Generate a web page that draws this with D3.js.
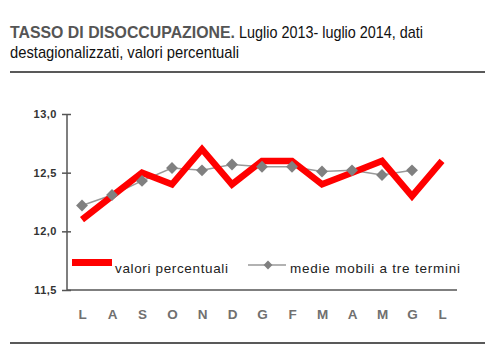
<!DOCTYPE html>
<html><head><meta charset="utf-8">
<script src="https://cdn.jsdelivr.net/npm/d3@7"></script>
<style>body{margin:0;background:#fff}svg{display:block}</style>
</head><body>
<script>
const months = ["L","A","S","O","N","D","G","F","M","A","M","G","L"];
const valori = [12.1, 12.3, 12.5, 12.4, 12.7, 12.4, 12.6, 12.6, 12.4, 12.5, 12.6, 12.3, 12.6];
const medie = [12.22, 12.31, 12.43, 12.54, 12.52, 12.57, 12.55, 12.55, 12.51, 12.52, 12.48, 12.52];
const yTicks = [11.5, 12.0, 12.5, 13.0];

const W = 500, H = 358;
const svg = d3.select("body").append("svg").attr("width", W).attr("height", H);
const font = "'Liberation Sans',Arial,sans-serif";

// title
svg.append("text").attr("x", 10).attr("y", 38).attr("font-family", font).attr("font-size", 17)
  .attr("font-weight", "bold").attr("fill", "#555")
  .attr("textLength", 225).attr("lengthAdjust", "spacingAndGlyphs").text("TASSO DI DISOCCUPAZIONE.");
svg.append("text").attr("x", 239).attr("y", 38).attr("font-family", font).attr("font-size", 17)
  .attr("fill", "#111").attr("textLength", 184).attr("lengthAdjust", "spacingAndGlyphs")
  .text("Luglio 2013- luglio 2014, dati");
svg.append("text").attr("x", 10).attr("y", 58).attr("font-family", font).attr("font-size", 17)
  .attr("fill", "#111").attr("textLength", 229).attr("lengthAdjust", "spacingAndGlyphs")
  .text("destagionalizzati, valori percentuali");
svg.append("line").attr("x1", 10).attr("x2", 485).attr("y1", 72).attr("y2", 72).attr("stroke", "#222").attr("stroke-width", 1.5);
svg.append("line").attr("x1", 10).attr("x2", 485).attr("y1", 343).attr("y2", 343).attr("stroke", "#222").attr("stroke-width", 1.5);

const idx = months.map((m, i) => i);
const x = d3.scalePoint().domain(idx).range([67, 457]).padding(0.5);
const y = d3.scaleLinear().domain([11.5, 13.0]).range([290, 114]);

// y axis
const ya = svg.append("g").attr("transform", "translate(67,0)")
  .call(d3.axisLeft(y).tickValues(yTicks).tickSize(5).tickFormat(d => d3.format(".1f")(d).replace(".", ",")));
ya.select(".domain").attr("stroke", "#555").attr("stroke-width", 1.5).attr("d", "M0,114V290");
ya.selectAll(".tick line").attr("stroke", "#555").attr("stroke-width", 1.5).attr("x1", 4).attr("x2", -5);
ya.selectAll(".tick text").attr("x", -10).attr("font-family", font)
  .attr("font-size", 11).attr("font-weight", "bold").attr("fill", "#333").attr("letter-spacing", 0.5);

// x axis
const xa = svg.append("g").attr("transform", "translate(0,290)")
  .call(d3.axisBottom(x).tickSize(0).tickFormat(i => months[i]));
xa.select(".domain").attr("stroke", "#555").attr("stroke-width", 1.5).attr("d", "M67,0H457");
xa.selectAll(".tick text").attr("dy", 0).attr("y", 29).attr("font-family", font)
  .attr("font-size", 13.5).attr("font-weight", "bold").attr("fill", "#707070");

// moving average line
const line = d3.line().x((d, i) => x(i)).y(d => y(d));
svg.append("path").datum(medie).attr("d", line).attr("fill", "none").attr("stroke", "#999").attr("stroke-width", 1.5);
// red line
svg.append("path").datum(valori).attr("d", line).attr("fill", "none").attr("stroke", "#f00")
  .attr("stroke-width", 6.5).attr("stroke-linejoin", "miter");
// diamonds
const sym = d3.symbol().type(d3.symbolDiamond2).size(90);
svg.selectAll(".dm").data(medie).join("path")
  .attr("transform", (d, i) => `translate(${x(i)},${y(d)})`).attr("d", sym).attr("fill", "#808080");

// legend
svg.append("rect").attr("x", 72).attr("y", 259).attr("width", 40).attr("height", 7).attr("fill", "#f00");
svg.append("text").attr("x", 115).attr("y", 273).attr("font-family", font)
  .attr("font-size", 13.5).attr("fill", "#222").attr("textLength", 113).attr("lengthAdjust", "spacing")
  .text("valori percentuali");
svg.append("line").attr("x1", 248).attr("x2", 286).attr("y1", 265).attr("y2", 265).attr("stroke", "#999").attr("stroke-width", 1.5);
svg.append("path").attr("transform", "translate(268,265)").attr("d", d3.symbol().type(d3.symbolDiamond2).size(50)).attr("fill", "#808080");
svg.append("text").attr("x", 290).attr("y", 273).attr("font-family", font)
  .attr("font-size", 13.5).attr("fill", "#222").attr("textLength", 170).attr("lengthAdjust", "spacing")
  .text("medie mobili a tre termini");
</script>
</body></html>
